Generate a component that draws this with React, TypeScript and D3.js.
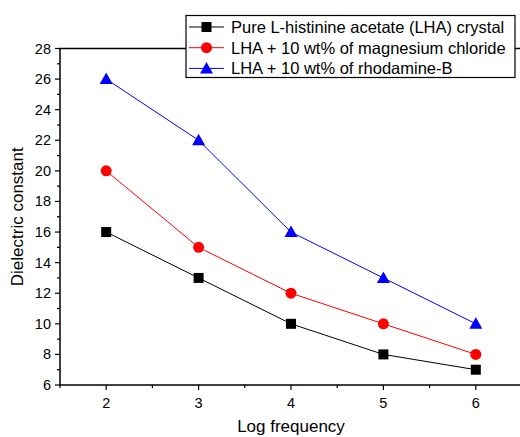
import * as d3 from 'd3';
import React, { useEffect, useRef } from 'react';

const logFreq = [2, 3, 4, 5, 6];
const pureLHA = [16, 13, 10, 8, 7];
const lhaMgCl = [20, 15, 12, 10, 8];
const lhaRhB = [26, 22, 16, 13, 10];
const seriesNames = [
  'Pure L-histinine acetate (LHA) crystal',
  'LHA + 10 wt% of magnesium chloride',
  'LHA + 10 wt% of rhodamine-B',
];
const seriesColors = ['#000000', '#ff0000', '#0000ff'];
const seriesShapes = ['square', 'circle', 'triangle'];

function App() {
  const ref = useRef<SVGSVGElement>(null);

  useEffect(() => {
    const svg = d3.select(ref.current);
    svg.selectAll('*').remove();

    const m = { left: 60, top: 48.5, right: 522, bottom: 385 };
    const font = 'Liberation Sans, Arial, sans-serif';

    const x = d3.scaleLinear().domain([1.5, 6.5]).range([m.left, m.right]);
    const y = d3.scaleLinear().domain([6, 28]).range([m.bottom, m.top]);

    const g = svg.append('g');

    // frame
    g.append('rect')
      .attr('x', m.left).attr('y', m.top)
      .attr('width', m.right - m.left).attr('height', m.bottom - m.top)
      .attr('fill', 'none').attr('stroke', '#000').attr('stroke-width', 1.5);

    // y ticks
    const yMajor = d3.range(6, 29, 2);
    const yMinor = d3.range(7, 28, 2);
    g.selectAll('.ymaj').data(yMajor).enter().append('line')
      .attr('x1', m.left - 5).attr('x2', m.left)
      .attr('y1', d => y(d)).attr('y2', d => y(d))
      .attr('stroke', '#000').attr('stroke-width', 1.2);
    g.selectAll('.ymin').data(yMinor).enter().append('line')
      .attr('x1', m.left - 3).attr('x2', m.left)
      .attr('y1', d => y(d)).attr('y2', d => y(d))
      .attr('stroke', '#000').attr('stroke-width', 1.2);
    g.selectAll('.ylab').data(yMajor).enter().append('text')
      .attr('x', m.left - 9).attr('y', d => y(d) + 5)
      .attr('text-anchor', 'end')
      .style('font-family', font).style('font-size', '14.5px')
      .text(d => d);

    // x ticks
    const xMajor = logFreq;
    const xMinor = d3.range(1.5, 6.6, 1);
    g.selectAll('.xmaj').data(xMajor).enter().append('line')
      .attr('x1', d => x(d)).attr('x2', d => x(d))
      .attr('y1', m.bottom).attr('y2', m.bottom + 5)
      .attr('stroke', '#000').attr('stroke-width', 1.2);
    g.selectAll('.xmin').data(xMinor).enter().append('line')
      .attr('x1', d => x(d)).attr('x2', d => x(d))
      .attr('y1', m.bottom).attr('y2', m.bottom + 3)
      .attr('stroke', '#000').attr('stroke-width', 1.2);
    g.selectAll('.xlab').data(xMajor).enter().append('text')
      .attr('x', d => x(d)).attr('y', m.bottom + 23)
      .attr('text-anchor', 'middle')
      .style('font-family', font).style('font-size', '14.5px')
      .text(d => d);

    // axis titles
    g.append('text')
      .attr('x', 291).attr('y', 432)
      .attr('text-anchor', 'middle')
      .style('font-family', font).style('font-size', '17px')
      .text('Log frequency');
    g.append('text')
      .attr('transform', `translate(23,${(m.top + m.bottom) / 2}) rotate(-90)`)
      .attr('text-anchor', 'middle')
      .style('font-family', font).style('font-size', '17px')
      .text('Dielectric constant');

    const drawMarker = (sel: any, shape: string, color: string, cx: number, cy: number) => {
      if (shape === 'square') {
        sel.append('rect').attr('x', cx - 5).attr('y', cy - 5)
          .attr('width', 10).attr('height', 10).attr('fill', color);
      } else if (shape === 'circle') {
        sel.append('circle').attr('cx', cx).attr('cy', cy).attr('r', 5.5).attr('fill', color);
      } else {
        sel.append('path')
          .attr('d', `M${cx},${cy - 6.5}L${cx + 6.5},${cy + 5}L${cx - 6.5},${cy + 5}Z`)
          .attr('fill', color);
      }
    };

    const allSeries = [pureLHA, lhaMgCl, lhaRhB];
    const line = d3.line<number>().x((_, i) => x(logFreq[i])).y(d => y(d));

    allSeries.forEach((vals, si) => {
      g.append('path').datum(vals)
        .attr('d', line)
        .attr('fill', 'none')
        .attr('stroke', seriesColors[si]).attr('stroke-width', 1);
      vals.forEach((v, i) => drawMarker(g, seriesShapes[si], seriesColors[si], x(logFreq[i]), y(v)));
    });

    // legend
    const lg = g.append('g');
    lg.append('rect')
      .attr('x', 186).attr('y', 15.5).attr('width', 329).attr('height', 62)
      .attr('fill', '#fff').attr('stroke', '#000').attr('stroke-width', 1.2);
    seriesNames.forEach((name, i) => {
      const ly = 27 + i * 20.7;
      lg.append('line')
        .attr('x1', 189).attr('x2', 224).attr('y1', ly).attr('y2', ly)
        .attr('stroke', seriesColors[i]).attr('stroke-width', 1);
      drawMarker(lg, seriesShapes[i], seriesColors[i], 206.5, ly);
      lg.append('text')
        .attr('x', 231).attr('y', ly + 6)
        .style('font-family', font).style('font-size', '16.5px')
        .text(name);
    });
  }, []);

  return (
    <svg ref={ref} width={520} height={437} style={{ position: 'absolute', left: 0, top: 0 }}></svg>
  );
}

export default App;
